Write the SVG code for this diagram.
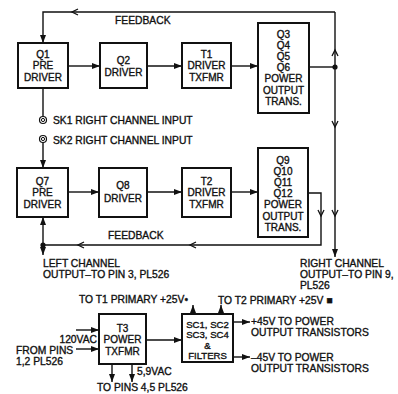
<svg xmlns="http://www.w3.org/2000/svg" width="398" height="394" viewBox="0 0 398 394">
<style>
.bx{fill:#fff;stroke:#111;stroke-width:2}
.ln{fill:none;stroke:#111;stroke-width:1.4}
.ch{fill:none;stroke:#111;stroke-width:1.3}
.t{font-family:"Liberation Sans",Arial,sans-serif;font-size:10px;fill:#111;stroke:#111;stroke-width:0.35;text-anchor:middle}
.l{font-family:"Liberation Sans",Arial,sans-serif;font-size:10.3px;fill:#111;stroke:#111;stroke-width:0.35}
</style>
<defs>
<marker id="ah" viewBox="0 0 8 6" refX="8" refY="3" markerWidth="8" markerHeight="6" markerUnits="userSpaceOnUse" orient="auto">
<path d="M0,0 L8,3 L0,6 Z" fill="#111"/>
</marker>
</defs>
<rect width="398" height="394" fill="#fff"/>

<g id="connectors">
<path class="ln" d="M335,12 L43,12 L43,43" marker-end="url(#ah)"/>
<path class="ch" d="M78,9 L72,12 L78,15"/>
<path class="ln" d="M335,12 L335,257" marker-end="url(#ah)"/>
<path class="ch" d="M332,56 L335,50 L338,56"/>
<path class="ch" d="M332,121 L335,127 L338,121"/>
<path class="ch" d="M332,210 L335,216 L338,210"/>
<path class="ln" d="M309,67 L335,67"/>
<circle cx="335" cy="67" r="2.6" fill="#111"/>
<path class="ln" d="M68,66 L100,66" marker-end="url(#ah)"/>
<path class="ln" d="M147,66 L182,66" marker-end="url(#ah)"/>
<path class="ln" d="M231,66 L258,66" marker-end="url(#ah)"/>
<path class="ln" d="M43,88 L43,116.5"/>
<circle cx="43" cy="120" r="3.5" fill="none" stroke="#111" stroke-width="1.2"/>
<circle cx="43" cy="120" r="1.6" fill="none" stroke="#111" stroke-width="1"/>
<circle cx="43" cy="139" r="3.5" fill="none" stroke="#111" stroke-width="1.2"/>
<circle cx="43" cy="139" r="1.6" fill="none" stroke="#111" stroke-width="1"/>
<path class="ln" d="M43,142.5 L43,168" marker-end="url(#ah)"/>
<path class="ln" d="M68,192 L99,192" marker-end="url(#ah)"/>
<path class="ln" d="M147,192 L182,192" marker-end="url(#ah)"/>
<path class="ln" d="M231,192 L258,192" marker-end="url(#ah)"/>
<path class="ln" d="M308,193 L321,193 L321,245 L43,245"/>
<path class="ch" d="M318,210 L321,216 L324,210"/>
<path class="ch" d="M84,242 L78,245 L84,248"/>
<path class="ch" d="M196,242 L190,245 L196,248"/>
<path class="ln" d="M43,245 L43,217" marker-end="url(#ah)"/>
<path class="ln" d="M43,245 L43,255" marker-end="url(#ah)"/>
<circle cx="43" cy="245" r="2.6" fill="#111"/>
<path class="ln" d="M76,330 L99,330" marker-end="url(#ah)"/>
<path class="ln" d="M76,349 L99,349" marker-end="url(#ah)"/>
<path class="ln" d="M146,340 L182,340" marker-end="url(#ah)"/>
<path class="ln" d="M112,364 L112,382" marker-end="url(#ah)"/>
<path class="ln" d="M132,364 L132,382" marker-end="url(#ah)"/>
<path class="ln" d="M193,314 L193,305" marker-end="url(#ah)"/>
<path class="ln" d="M221,314 L221,305" marker-end="url(#ah)"/>
<path class="ln" d="M233,322 L250,322" marker-end="url(#ah)"/>
<path class="ln" d="M233,357 L250,357" marker-end="url(#ah)"/>
</g>

<g id="Q1">
<rect class="bx" x="18" y="43" width="50" height="45"/>
<text class="t" x="43" y="57.5">Q1</text>
<text class="t" x="43" y="69">PRE</text>
<text class="t" x="43" y="80.5">DRIVER</text>
</g>
<g id="Q2">
<rect class="bx" x="100" y="43" width="47" height="45"/>
<text class="t" x="123.5" y="63.5">Q2</text>
<text class="t" x="123.5" y="76">DRIVER</text>
</g>
<g id="T1">
<rect class="bx" x="182" y="43" width="49" height="45"/>
<text class="t" x="206.5" y="57.5">T1</text>
<text class="t" x="206.5" y="69">DRIVER</text>
<text class="t" x="206.5" y="80.5">TXFMR</text>
</g>
<g id="Q3">
<rect class="bx" x="258" y="23" width="51" height="90"/>
<text class="t" x="283.5" y="37.5">Q3</text>
<text class="t" x="283.5" y="48.7">Q4</text>
<text class="t" x="283.5" y="59.9">Q5</text>
<text class="t" x="283.5" y="71.1">Q6</text>
<text class="t" x="283.5" y="82.3">POWER</text>
<text class="t" x="283.5" y="93.5">OUTPUT</text>
<text class="t" x="283.5" y="104.7">TRANS.</text>
</g>
<g id="Q7">
<rect class="bx" x="17" y="168" width="51" height="49"/>
<text class="t" x="42.5" y="184.5">Q7</text>
<text class="t" x="42.5" y="196">PRE</text>
<text class="t" x="42.5" y="207.5">DRIVER</text>
</g>
<g id="Q8">
<rect class="bx" x="99" y="168" width="48" height="49"/>
<text class="t" x="123" y="189">Q8</text>
<text class="t" x="123" y="202">DRIVER</text>
</g>
<g id="T2">
<rect class="bx" x="182" y="168" width="49" height="49"/>
<text class="t" x="206.5" y="184.5">T2</text>
<text class="t" x="206.5" y="196">DRIVER</text>
<text class="t" x="206.5" y="207.5">TXFMR</text>
</g>
<g id="Q9">
<rect class="bx" x="258" y="148" width="50" height="89"/>
<text class="t" x="283" y="163.5">Q9</text>
<text class="t" x="283" y="174.7">Q10</text>
<text class="t" x="283" y="185.9">Q11</text>
<text class="t" x="283" y="197.1">Q12</text>
<text class="t" x="283" y="208.3">POWER</text>
<text class="t" x="283" y="219.5">OUTPUT</text>
<text class="t" x="283" y="230.7">TRANS.</text>
</g>
<g id="T3">
<rect class="bx" x="99" y="314" width="47" height="50"/>
<text class="t" x="122.5" y="331.5">T3</text>
<text class="t" x="122.5" y="343">POWER</text>
<text class="t" x="122.5" y="354.5">TXFMR</text>
</g>
<g id="SC">
<rect class="bx" x="182" y="314" width="51" height="48"/>
<text class="t" x="207.5" y="327.5" style="font-size:9.6px">SC1, SC2</text>
<text class="t" x="207.5" y="338" style="font-size:9.6px">SC3, SC4</text>
<text class="t" x="207.5" y="348.5" style="font-size:9.6px">&amp;</text>
<text class="t" x="207.5" y="359" style="font-size:9.6px">FILTERS</text>
</g>

<g id="labels">
<text class="l" x="115" y="24">FEEDBACK</text>
<text class="l" x="53" y="124">SK1 RIGHT CHANNEL INPUT</text>
<text class="l" x="53" y="144">SK2 RIGHT CHANNEL INPUT</text>
<text class="l" x="108" y="239">FEEDBACK</text>
<text class="l" x="43" y="267">LEFT CHANNEL</text>
<text class="l" x="43" y="278">OUTPUT–TO PIN 3, PL526</text>
<text class="l" x="300" y="267">RIGHT CHANNEL</text>
<text class="l" x="300" y="278">OUTPUT–TO PIN 9,</text>
<text class="l" x="300" y="289">PL526</text>
<text class="l" x="79" y="303">TO T1 PRIMARY +25V•</text>
<text class="l" x="218" y="304">TO T2 PRIMARY +25V ■</text>
<text class="l" x="97" y="343" text-anchor="end">120VAC</text>
<text class="l" x="16" y="354">FROM PINS</text>
<text class="l" x="16" y="365">1,2 PL526</text>
<text class="l" x="137" y="375">5,9VAC</text>
<text class="l" x="97" y="391">TO PINS 4,5 PL526</text>
<text class="l" x="251" y="325">+45V TO POWER</text>
<text class="l" x="251" y="336">OUTPUT TRANSISTORS</text>
<text class="l" x="251" y="361">–45V TO POWER</text>
<text class="l" x="251" y="372">OUTPUT TRANSISTORS</text>
</g>
</svg>
